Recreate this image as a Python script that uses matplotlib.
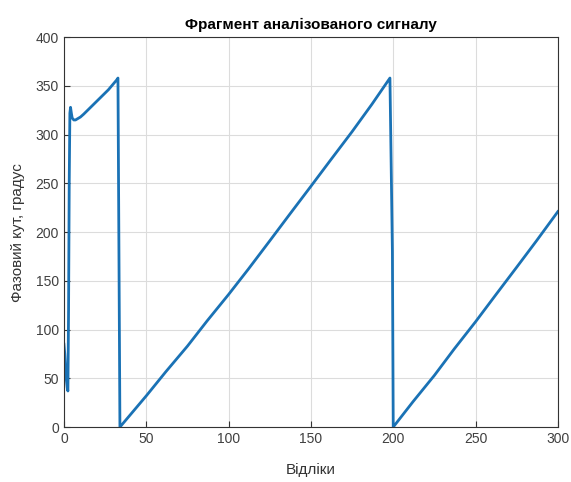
import matplotlib
matplotlib.use("Agg")
import matplotlib.pyplot as plt

# samples (x) and phase angle in degrees (y)
samples = [0, 0.5, 1, 1.5, 2, 2.4, 2.8, 3.2, 3.6, 4, 4.5, 5, 6, 7, 8, 10, 12, 15,
           18, 21, 24, 27, 30, 32, 32.8, 34,
           42, 50, 62, 75, 87, 100, 112, 125, 137, 150, 162, 175, 187, 198,
           199.5, 200, 212, 225, 237, 250, 262, 275, 287, 300]
phase = [85, 75, 60, 48, 40, 37, 120, 250, 322, 328, 322, 317, 315, 315, 316, 318, 321, 326,
         331, 336, 341, 346, 352, 356, 358, 0,
         16, 32, 57, 83, 109, 136, 162, 191, 218, 247, 274, 303, 331, 358,
         180, 0, 26, 53, 80, 108, 135, 164, 191, 221]

title = "Фрагмент аналізованого сигналу"
xlabel = "Відліки"
ylabel = "Фазовий кут, градус"

plt.rcParams['font.family'] = ['Liberation Sans', 'DejaVu Sans']

fig = plt.figure(figsize=(5.71, 4.82), dpi=100)
ax = fig.add_axes([0.112, 0.114, 0.865, 0.809])

ax.plot(samples, phase, color='#1a72b5', linewidth=2.0)

ax.set_xlim(0, 300)
ax.set_ylim(0, 400)
ax.set_xticks(range(0, 301, 50))
ax.set_yticks(range(0, 401, 50))
ax.grid(True, color='#dcdcdc', linewidth=0.8)
ax.set_axisbelow(True)
ax.tick_params(direction='in', length=4, labelsize=10, colors='#333333', labelcolor='#404040')
for s in ax.spines.values():
    s.set_color('#333333')
    s.set_linewidth(0.8)

ax.set_title(title, fontsize=11, fontweight='bold', pad=6)
ax.set_xlabel(xlabel, fontsize=11, color='#333333', labelpad=12)
ax.set_ylabel(ylabel, fontsize=11, color='#333333', labelpad=8)

fig.savefig("out.png", dpi=100)
